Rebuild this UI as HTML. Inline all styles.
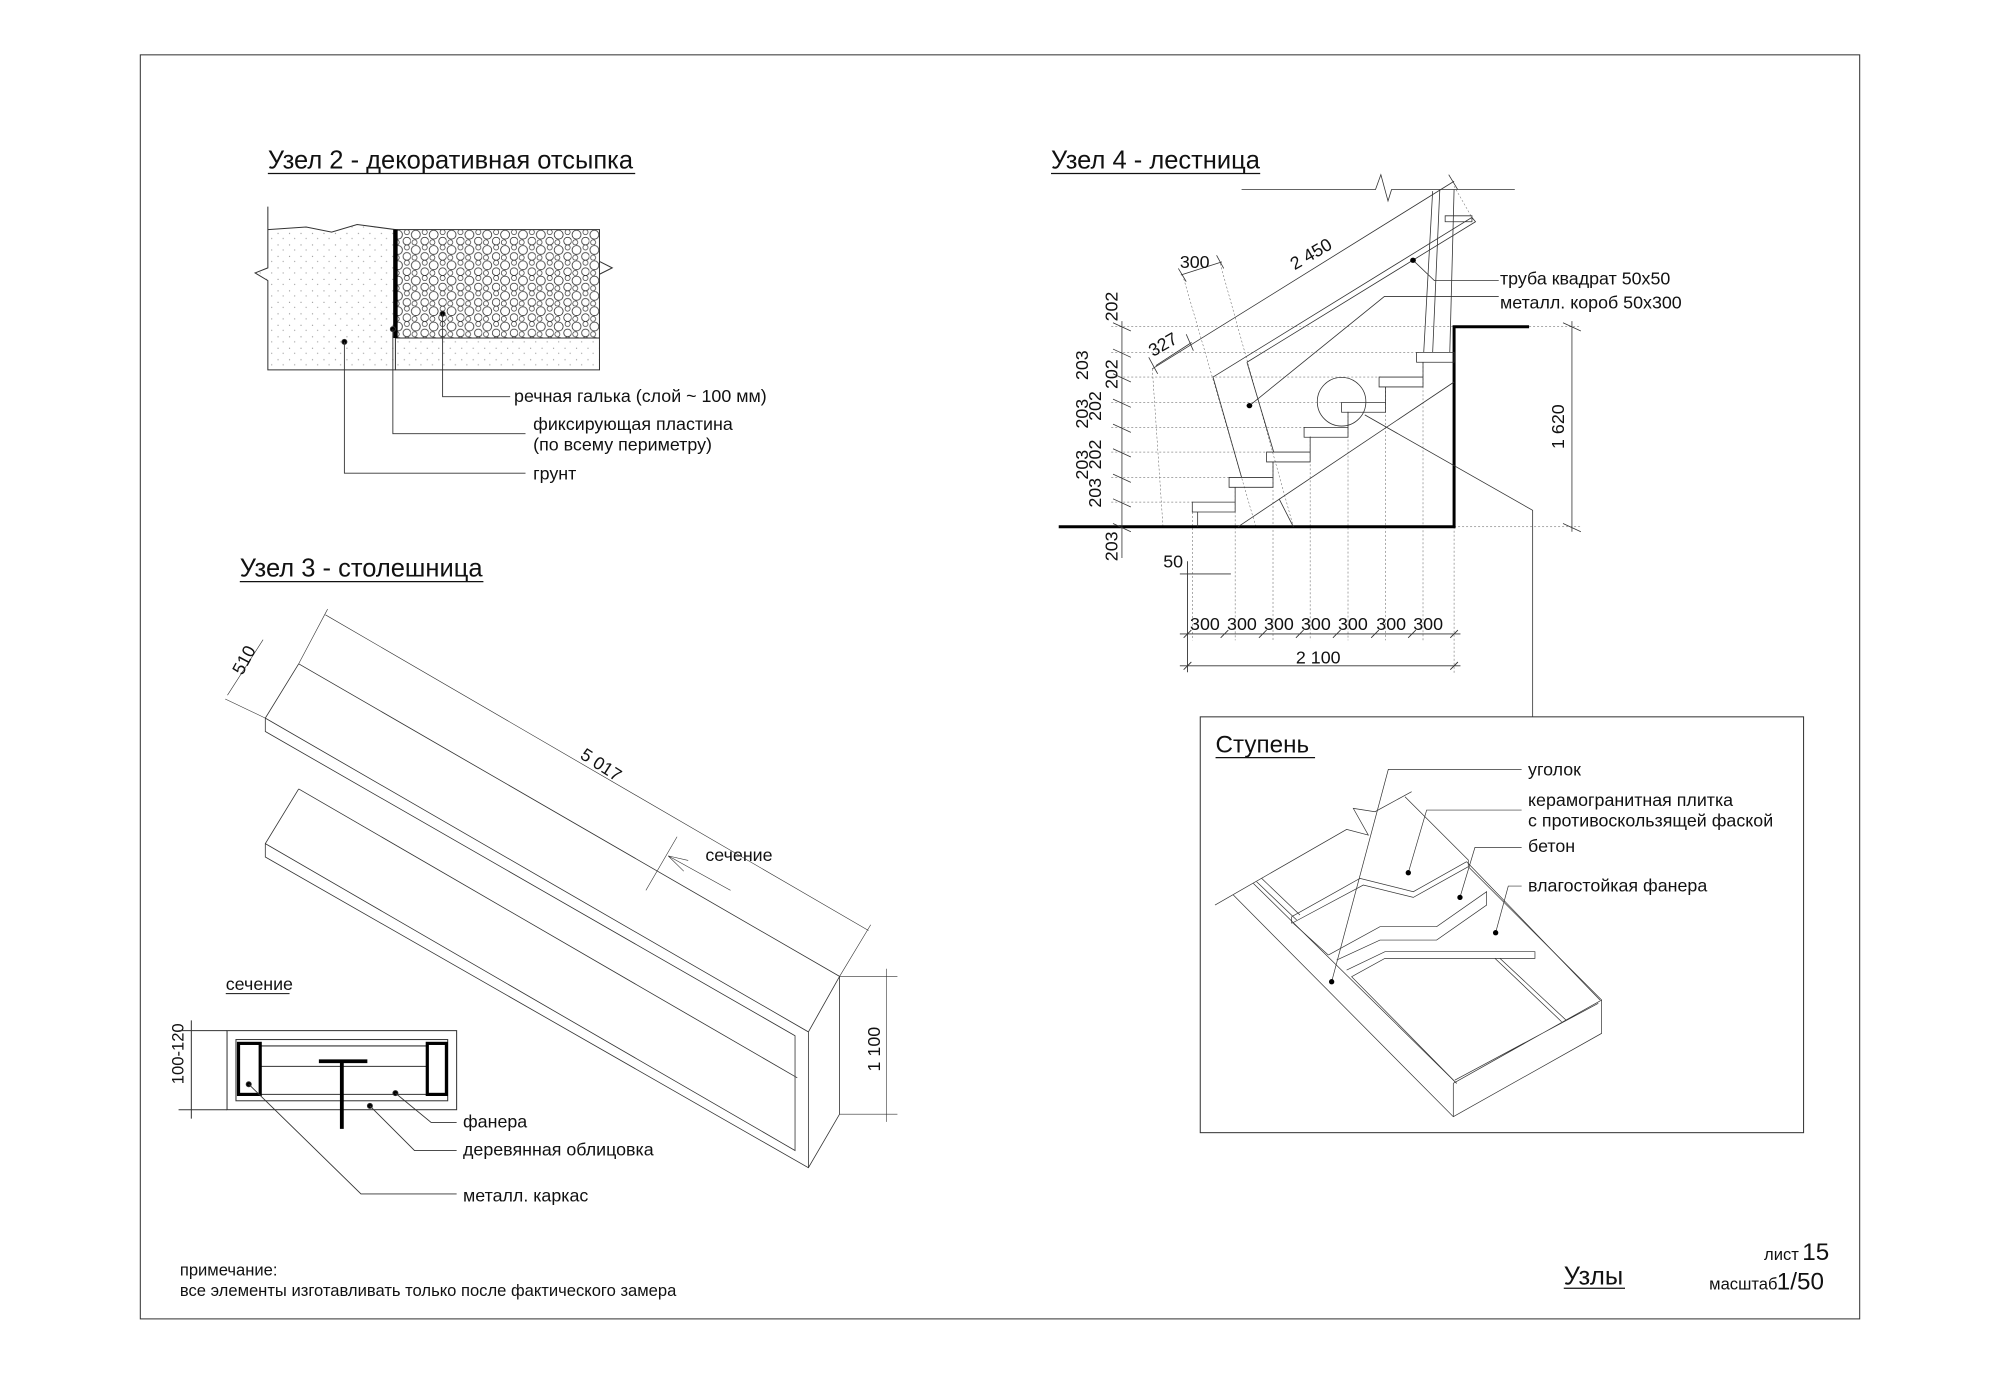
<!DOCTYPE html>
<html><head><meta charset="utf-8"><style>
html,body{margin:0;padding:0;background:#fff}
svg{display:block}
text{font-family:"Liberation Sans",sans-serif;fill:#111}
.n{vector-effect:non-scaling-stroke}
</style></head><body>
<svg width="2000" height="1374" viewBox="0 0 1568 1077.2" preserveAspectRatio="none" xmlns="http://www.w3.org/2000/svg">
<defs>
<pattern id="peb" width="14" height="12" patternUnits="userSpaceOnUse">
<circle cx="4" cy="4" r="3.5" fill="none" stroke="#222" stroke-width="0.6"/>
<circle cx="11" cy="9" r="3" fill="none" stroke="#222" stroke-width="0.6"/>
<circle cx="11" cy="2" r="2" fill="none" stroke="#222" stroke-width="0.5"/>
<circle cx="3" cy="10" r="2" fill="none" stroke="#222" stroke-width="0.5"/>
</pattern>
<pattern id="dots" width="9" height="9" patternUnits="userSpaceOnUse">
<circle cx="2" cy="3" r="0.5" fill="#999"/><circle cx="6" cy="7" r="0.5" fill="#aaa"/>
</pattern>
</defs>
<rect x="110" y="43" width="1348" height="991" fill="none" stroke="#333" stroke-width="0.8"/>

<!-- Uzel 2 -->
<text x="210" y="132" font-size="20">Узел 2 - декоративная отсыпка</text>
<line x1="210" y1="136" x2="498" y2="136" stroke="#111"/>
<g stroke="#333" stroke-width="0.8" fill="none">
<path d="M210,162 L210,210 L200,214 L210,220 L210,290 L310,290 L310,180 L280,176 L260,182 L240,178 L210,180" fill="url(#dots)"/>
<rect x="310" y="180" width="160" height="85" fill="url(#peb)"/>
<path d="M310,265 L470,265 L470,290 L310,290" fill="url(#dots)"/>
<path d="M470,180 L470,205 L480,210 L470,215 L470,265"/>
</g>
<line x1="310" y1="180" x2="310" y2="265" stroke="#000" stroke-width="3.5"/>
<g stroke="#333" stroke-width="0.7" fill="none">
<circle cx="347" cy="246" r="2" fill="#000"/>
<path d="M347,246 L347,311 L400,311"/>
<circle cx="308" cy="258" r="2" fill="#000"/>
<path d="M308,258 L308,340 L412,340"/>
<circle cx="270" cy="268" r="2" fill="#000"/>
<path d="M270,268 L270,371 L412,371"/>
</g>
<text x="403" y="315" font-size="14">речная галька (слой ~ 100 мм)</text>
<text x="418" y="337" font-size="14">фиксирующая пластина</text>
<text x="418" y="353" font-size="14">(по всему периметру)</text>
<text x="418" y="376" font-size="14">грунт</text>

<!-- Uzel 3 -->
<text x="188" y="452" font-size="20">Узел 3 - столешница</text>
<line x1="188" y1="456" x2="379" y2="456" stroke="#111"/>
<g transform="translate(173.1,473) scale(0.349,0.3)" stroke="#333" fill="none">
<path class="n" stroke-width="0.8" d="M175,158 L1390,975 L1390,1335 L1320,1475 L100,663 L100,628 L175,485"/>
<path class="n" stroke-width="0.8" d="M175,158 L100,300 L100,335 L1290,1130 L1290,1430 L100,628"/>
<path class="n" stroke-width="0.8" d="M100,300 L1320,1120 L1390,975 M1320,1120 L1320,1475"/>
<path class="n" stroke-width="0.8" d="M175,485 L1295,1240"/>
<path class="n" stroke-width="0.6" d="M235,30 L1455,855 M175,158 L240,15 M1390,975 L1460,840 M95,95 L15,240 M100,300 L10,250 M1390,975 L1520,975 M1390,1335 L1520,1335 M1495,955 L1495,1355"/>
<path class="n" stroke-width="0.6" d="M1025,610 L955,750 M1005,660 L1145,750 M1005,660 L1050,672 M1005,660 L1040,700"/>
</g>
<text font-size="14" transform="translate(454,594) rotate(33)">5 017</text>
<text font-size="14" transform="translate(190,530) rotate(-62)">510</text>
<text x="553" y="675" font-size="14">сечение</text>
<text font-size="14" transform="translate(690,840) rotate(-90)">1 100</text>
<text font-size="13" transform="translate(144,850) rotate(-90)">100-120</text>

<text x="177" y="776" font-size="14">сечение</text>
<line x1="177" y1="779" x2="227" y2="779" stroke="#111" stroke-width="0.8"/>
<g stroke="#333" stroke-width="0.8" fill="none">
<rect x="178" y="808" width="180" height="62"/>
<rect x="185" y="815" width="166" height="48"/>
<path d="M204,820 L335,820 M204,836 L335,836 M204,858 L335,858"/>
<path d="M140,808 L178,808 M140,870 L178,870 M150,800 L150,877"/>
</g>
<rect x="187" y="818" width="17" height="40" fill="none" stroke="#000" stroke-width="2.5"/>
<rect x="335" y="818" width="15" height="40" fill="none" stroke="#000" stroke-width="2.5"/>
<path d="M250,832 L288,832 M268,832 L268,885" stroke="#000" stroke-width="3"/>
<g stroke="#333" stroke-width="0.7" fill="none">
<circle cx="195" cy="850" r="2" fill="#000"/><circle cx="310" cy="857" r="2" fill="#000"/><circle cx="290" cy="867" r="2" fill="#000"/>
<path d="M310,857 L338,880 L358,880"/><path d="M290,867 L325,902 L358,902"/><path d="M195,850 L283,936 L358,936"/>
</g>
<text x="363" y="884" font-size="14">фанера</text>
<text x="363" y="906" font-size="14">деревянная облицовка</text>
<text x="363" y="942" font-size="14">металл. каркас</text>

<!-- Uzel 4 -->
<text x="824" y="132" font-size="20">Узел 4 - лестница</text>
<line x1="824" y1="136" x2="988" y2="136" stroke="#111"/>
<g transform="translate(834.8,127.9) scale(0.28,0.258)" fill="none" stroke="#333">
<g stroke="#555">
<path class="n" stroke-width="0.5" stroke-dasharray="2,2" d="M130,497 L1090,497 M1300,497 L1445,497 M130,575 L990,575 M130,650 L885,650 M130,727 L780,727 M130,803 L675,803 M130,878 L570,878 M130,955 L465,955 M130,1030 L360,1030 M1090,1105 L1445,1105"/>
<path class="n" stroke-width="0.5" stroke-dasharray="2,2" d="M330,340 L535,1105 M435,305 L640,1105 M245,625 L275,1105"/>
<path class="n" stroke-width="0.5" stroke-dasharray="2,2" d="M357,1060 L357,1450 M477,985 L477,1450 M583,908 L583,1450 M687,830 L687,1450 M793,755 L793,1450 M898,680 L898,1450 M1003,605 L1003,1450 M1090,1105 L1090,1550"/>
<path class="n" stroke-width="0.5" stroke-dasharray="2,2" d="M1090,70 L1145,175"/>
</g>
<path class="n" stroke="#000" stroke-width="3" d="M-17,1105 L1090,1105 L1090,497 L1300,497"/>
<path class="n" stroke-width="0.8" d="M357,1030 h120 v30 h-120 z M460,955 h123 v30 h-123 z M565,878 h122 v30 h-122 z M670,803 h123 v30 h-123 z M775,727 h123 v30 h-123 z M880,650 h123 v30 h-123 z M985,575 h105 v30 h-105 z"/>
<path class="n" stroke-width="0.8" d="M372,1060 L372,1105 M477,985 L477,1030 M583,908 L583,955 M687,833 L687,878 M793,757 L793,803 M898,680 L898,727 M1003,605 L1003,650"/>
<path class="n" stroke-width="0.8" d="M485,1105 L1090,665"/>
<path class="n" stroke-width="0.8" d="M415,650 L1140,165 L1150,178 L510,605 M1065,160 L1140,160 L1140,178 L1065,178 Z"/>
<path class="n" stroke-width="0.8" d="M1005,575 L1030,85 M1030,575 L1050,80 M1078,575 L1090,80"/>
<path class="n" stroke-width="0.8" d="M495,80 L870,80 L885,35 L905,115 L915,80 L1260,80"/>
<path class="n" stroke-width="0.8" d="M245,625 L1090,55 M1075,35 L1100,80 M235,590 L260,640"/>
<path class="n" stroke-width="0.8" d="M325,340 L440,300 M318,320 L340,360 M425,280 L445,320"/>
<path class="n" stroke-width="0.8" d="M255,615 L355,545 M340,520 L360,570"/>
<path class="n" stroke-width="0.8" d="M415,650 L495,955 M510,605 L585,878 M600,1020 L640,1105"/>
<path class="n" stroke-width="0.8" d="M517,737 L895,405 L1215,405 M975,295 L1035,357 L1215,357"/>
<ellipse class="n" stroke-width="0.8" cx="775" cy="725" rx="68" ry="74"/>
<path class="n" stroke-width="0.8" d="M840,765 L1310,1055 L1310,1683"/>
<path class="n" stroke-width="0.8" d="M160,480 L160,1200 M135,485 L185,510 M135,565 L185,590 M135,640 L185,665 M135,717 L185,742 M135,793 L185,818 M135,868 L185,893 M135,945 L185,970 M135,1020 L185,1045 M135,1095 L185,1120"/>
<path class="n" stroke-width="0.8" d="M1420,480 L1420,1120 M1395,485 L1445,510 M1395,1095 L1445,1120"/>
<circle cx="517" cy="737" r="8" fill="#000" stroke="none"/>
<circle cx="975" cy="295" r="8" fill="#000" stroke="none"/>
</g>
<text x="925" y="210" font-size="14">300</text>
<text font-size="14" transform="translate(1015,212) rotate(-30)">2 450</text>
<text font-size="14" transform="translate(904,280) rotate(-30)">327</text>
<text x="912" y="445" font-size="14">50</text>
<g stroke="#333" stroke-width="0.7" fill="none">
<path d="M925,497 L1145,497 M925,522 L1145,522 M931,440 L931,527 M925,450 L965,450"/>
<path d="M928,500 L934,494 M957,500 L963,494 M987,500 L993,494 M1016,500 L1022,494 M1045,500 L1051,494 M1075,500 L1081,494 M1104,500 L1110,494 M1137,500 L1143,494 M928,525 L934,519 M1137,525 L1143,519"/>
</g>
<g font-size="14">
<text x="933" y="494">300</text><text x="962" y="494">300</text><text x="991" y="494">300</text><text x="1020" y="494">300</text><text x="1049" y="494">300</text><text x="1079" y="494">300</text><text x="1108" y="494">300</text>
<text x="1016" y="520">2 100</text>
</g>
<g font-size="14">
<text transform="translate(876,252) rotate(-90)">202</text>
<text transform="translate(853,298) rotate(-90)">203</text>
<text transform="translate(876,305) rotate(-90)">202</text>
<text transform="translate(853,336) rotate(-90)">203</text>
<text transform="translate(863,330) rotate(-90)">202</text>
<text transform="translate(863,368) rotate(-90)">202</text>
<text transform="translate(853,376) rotate(-90)">203</text>
<text transform="translate(863,398) rotate(-90)">203</text>
<text transform="translate(876,440) rotate(-90)">203</text>
<text transform="translate(1226,352) rotate(-90)">1 620</text>
</g>
<text x="1176" y="223" font-size="14">труба квадрат 50х50</text>
<text x="1176" y="242" font-size="14">металл. короб 50х300</text>

<!-- Ступень -->
<rect x="941" y="562" width="473" height="326" fill="none" stroke="#333" stroke-width="0.8"/>
<text x="953" y="590" font-size="19">Ступень</text>
<line x1="953" y1="594" x2="1031" y2="594" stroke="#111"/>
<g transform="translate(940.8,580.2) scale(0.2613)" fill="none" stroke="#333">
<path class="n" stroke-width="0.7" d="M45,495 L440,268 L505,285 L460,205 L525,215 L635,155"/>
<path class="n" stroke-width="0.7" d="M615,170 L805,360 L805,380 L1205,780 L1205,880 L760,1130 L100,465"/>
<path class="n" stroke-width="0.7" d="M760,1030 L1205,780 M760,1030 L760,1130 M765,1020 L1195,790 M800,365 L1200,780"/>
<path class="n" stroke-width="0.7" d="M160,430 L770,1030 M185,415 L300,525 M170,425 L290,540"/>
<path class="n" stroke-width="0.7" d="M275,530 L480,415 L640,455 L800,365 M275,550 L490,435 L640,472 L805,380 M275,530 L275,550"/>
<path class="n" stroke-width="0.7" d="M385,645 L540,560 L710,560 L860,455 L860,495 L710,600 L540,600 L410,660"/>
<path class="n" stroke-width="0.7" d="M440,690 L555,635 L1005,635 L1005,655 L555,655 L455,710 L770,1030"/>
<path class="n" stroke-width="0.7" d="M885,655 L1085,845 M900,655 L1098,840 M280,550 L385,645"/>
<path class="n" stroke-width="0.7" d="M395,725 L565,88 L965,88 M625,398 L680,210 L965,210 M780,472 L825,322 L965,322 M887,578 L925,438 L965,438"/>
<circle cx="395" cy="725" r="8" fill="#000" stroke="none"/><circle cx="625" cy="398" r="8" fill="#000" stroke="none"/><circle cx="780" cy="472" r="8" fill="#000" stroke="none"/><circle cx="887" cy="578" r="8" fill="#000" stroke="none"/>
</g>
<text x="1198" y="608" font-size="14">уголок</text>
<text x="1198" y="632" font-size="14">керамогранитная плитка</text>
<text x="1198" y="648" font-size="14">с противоскользящей фаской</text>
<text x="1198" y="668" font-size="14">бетон</text>
<text x="1198" y="699" font-size="14">влагостойкая фанера</text>

<!-- footer -->
<text x="141" y="1000" font-size="13">примечание:</text>
<text x="141" y="1016" font-size="13">все элементы изготавливать только после фактического замера</text>
<text x="1226" y="1007" font-size="20">Узлы</text>
<line x1="1226" y1="1010" x2="1274" y2="1010" stroke="#111"/>
<text x="1383" y="988" font-size="13">лист</text><text x="1413" y="988" font-size="19">15</text>
<text x="1340" y="1011" font-size="13">масштаб</text><text x="1393" y="1011" font-size="19">1/50</text>
</svg>
</body></html>
